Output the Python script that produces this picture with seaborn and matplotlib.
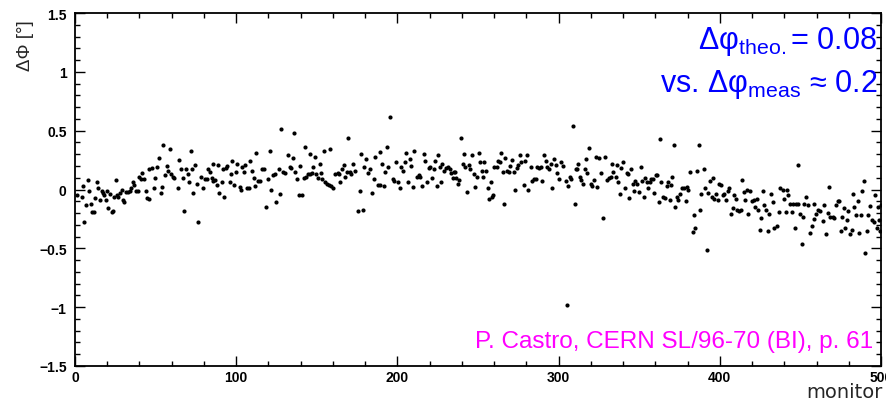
import matplotlib
matplotlib.use("Agg")
import matplotlib.pyplot as plt
import seaborn as sns
import pandas as pd
from matplotlib.ticker import MultipleLocator, FixedLocator, FixedFormatter

# ---- data ----
monitor = [
    1.5, 4.1, 5.2, 6.6, 5.6, 7.9, 8.9, 9.7, 10.4, 11.8, 12.4, 13.5, 14.5, 15.5, 16.6,
    17.6, 18.2, 19.3, 20.1, 20.7, 21.7, 22.8, 23.8, 24.4, 25.5, 25.9, 26.9, 28.0, 29.0, 29.6,
    30.4, 31.7, 33.1, 34.2, 34.6, 35.8, 36.9, 37.7, 38.9, 39.8, 41.0, 41.8, 42.9, 44.1, 44.9,
    46.2, 46.0, 47.6, 49.1, 49.7, 50.7, 51.8, 53.2, 53.8, 54.9, 55.9, 57.0, 58.0, 59.0, 59.6,
    60.7, 61.7,
    63.6, 64.8, 65.6, 66.9, 67.7, 68.9, 69.8, 71.0, 71.8, 72.5, 73.5, 74.5, 75.6, 76.6, 78.0,
    79.3, 80.7, 81.8, 82.8, 83.8, 84.9, 85.9, 85.9, 87.0, 88.0, 89.0, 89.6, 91.1, 92.1, 92.7,
    93.8, 94.6, 95.9, 96.7, 97.5, 98.8, 99.6, 100.8, 102.1, 102.9, 103.7, 105.0, 105.6, 107.0, 108.3,
    107.9, 109.7, 110.8, 111.8, 112.4, 113.5, 114.9, 115.9, 117.4, 118.6, 119.7, 120.7, 121.5, 122.8,
    124.2, 124.8, 126.3, 126.9, 127.7, 129.0, 130.4, 131.9, 133.1, 133.9, 135.2, 135.6, 136.6, 137.7, 138.7,
    139.7, 140.8, 141.8, 142.8, 143.5, 144.5, 145.5, 146.0, 147.0, 147.6, 148.6, 149.7, 150.5, 151.7, 152.6,
    153.4, 154.6, 155.3, 156.3, 157.3, 158.0, 158.8, 160.0, 161.5, 162.9, 163.5, 164.6, 165.6, 166.6, 167.7,
    168.7, 169.3, 170.4, 171.4, 172.4, 173.9, 175.3, 176.6, 177.4, 178.7, 179.5, 180.7, 181.8, 183.2, 184.5,
    185.3, 186.3,
    187.8, 189.0, 189.4, 190.4, 191.5, 192.5, 193.5, 194.0, 195.6, 197.3, 198.1, 199.3, 200.2, 201.4, 202.2,
    203.5, 204.5, 205.6, 206.6, 207.6, 208.5, 209.7, 210.1, 212.2, 213.2, 214.3, 215.3, 216.3, 217.4, 218.4,
    219.4, 220.5, 221.5, 222.5, 223.6, 224.6, 225.2, 226.3, 227.1, 227.9, 229.2, 230.4, 231.4, 232.5, 233.5,
    234.5, 235.0, 236.0, 236.6, 237.4, 238.1, 239.5, 240.8, 241.6, 242.2, 243.2, 244.3, 245.3, 246.3, 247.4,
    248.0,
    249.4, 250.5, 251.1, 252.5, 253.2, 254.0, 255.2, 256.1, 257.1, 258.1, 258.8, 259.4, 260.2, 261.5, 262.3,
    263.5, 264.3, 265.2, 266.0, 267.0, 268.1, 269.1, 270.1, 271.2, 272.2, 273.0, 273.9, 274.9, 275.9, 276.8,
    278.4, 279.0, 280.1, 281.3, 282.6, 283.8, 284.6, 285.7, 286.7, 287.7, 288.8, 289.8, 290.8, 291.9, 292.9,
    294.0, 295.0, 296.0, 297.1, 298.1, 299.1, 300.2, 301.6, 302.9, 304.9, 305.5, 306.0, 307.0, 308.0, 308.9,
    310.1, 310.5,
    311.2, 312.1, 313.3, 314.1, 315.4, 316.2, 317.2, 317.9, 318.9, 319.9, 321.0, 322.0, 323.0, 324.1, 325.1,
    326.5, 327.8, 328.8, 330.3, 331.3, 332.3, 333.0, 334.0, 335.5, 336.1, 337.1, 338.1, 339.0, 340.0, 341.0,
    342.3, 343.1, 343.9, 344.8, 346.0, 346.8, 347.7, 348.9, 349.9, 351.0, 351.8, 353.1, 353.9, 354.7, 355.7,
    356.8, 357.6, 358.4, 359.3, 360.3, 361.3, 362.0, 362.8, 363.8, 364.9, 365.9, 367.1, 368.0, 369.0, 369.6,
    370.6, 371.5, 372.1,
    373.3, 374.2, 375.4, 376.8, 377.9, 378.9, 379.5, 380.4, 381.6, 383.1, 383.7, 384.5, 385.7, 386.8, 387.8,
    388.6, 389.9, 390.7, 392.0, 392.8, 394.0, 394.9, 395.7, 396.5, 397.6, 398.6, 399.6, 400.7, 401.7, 402.7,
    403.8, 404.8, 405.8, 406.9, 407.9, 408.9, 410.0, 410.6, 412.0, 413.1, 413.7, 415.1, 415.8, 416.8, 417.8,
    418.9, 419.9, 421.0, 421.8, 423.0, 423.8, 424.9, 425.5, 426.5, 427.6, 428.6, 429.6, 430.7, 431.7, 432.7,
    433.8,
    435.4, 436.9, 437.5, 438.9, 440.0, 441.0, 441.6, 442.5, 443.7, 444.5, 445.2, 446.6, 447.2, 448.3, 448.7,
    449.9, 450.7, 451.6, 452.4, 453.4, 454.5, 456.1, 457.0, 458.2, 458.6, 459.7, 461.1, 462.3, 463.8, 464.8,
    465.9, 466.9, 467.9, 468.6, 470.0, 471.0, 472.1, 473.1, 474.1, 475.2, 475.8, 476.8, 477.7, 478.9, 479.7,
    481.0, 481.8, 482.4, 483.5, 484.5, 485.5, 486.6, 487.6, 488.2, 489.3, 490.3, 491.3, 492.2, 493.4, 494.2,
    495.5, 496.3, 497.5, 498.3, 499.0, 499.6, 499.8,
]

dphi = [
    -0.05, -0.06, 0.03, -0.13, -0.28, 0.08, -0.01, -0.12, -0.19, -0.19, -0.07, 0.06, 0.01, -0.09, -0.01,
    -0.03, -0.05, -0.09, -0.01, -0.16, -0.04, -0.19, -0.18, -0.06, 0.08, -0.05, -0.06, -0.03, 0.00, -0.09,
    -0.11, -0.02, -0.02, -0.01, 0.01, 0.06, 0.04, -0.01, -0.01, 0.11, 0.09, 0.14, 0.09, -0.01, -0.07,
    -0.08, 0.17, 0.18, 0.01, 0.10, 0.19, 0.27, -0.03, 0.02, 0.38, 0.12, 0.20, 0.16, 0.34, 0.13,
    0.11, 0.10,
    0.01, 0.25, 0.17, 0.10, -0.18, 0.17, 0.13, 0.06, 0.33, 0.17, -0.03, 0.21, 0.05, -0.28, 0.11,
    0.01, 0.09, 0.09, 0.17, 0.15, 0.10, 0.22, 0.07, 0.08, 0.04, 0.21, -0.03, 0.06, 0.17, -0.06,
    0.18, 0.20, 0.06, 0.13, 0.24, 0.04, 0.15, 0.22, 0.02, 0.00, 0.19, 0.15, 0.21, 0.01, 0.24,
    0.01, 0.16, 0.10, 0.03, 0.31, 0.07, 0.07, 0.17, 0.17, -0.15, 0.09, 0.33, 0.00, 0.12,
    0.13, -0.11, 0.17, -0.04, 0.51, 0.15, 0.14, 0.29, 0.19, 0.18, 0.27, 0.48, 0.15, 0.09, -0.05,
    0.20, -0.05, 0.10, 0.36, 0.11, 0.13, 0.13, 0.30, 0.14, 0.19, 0.28, 0.13, 0.10, 0.22, 0.14,
    0.09, 0.33, 0.06, 0.05, 0.04, 0.34, 0.03, 0.01, 0.13, 0.14, 0.13, 0.06, 0.17, 0.21, 0.11,
    0.15, 0.44, 0.15, 0.13, 0.22, 0.16, -0.18, -0.01, 0.30, -0.17, 0.19, 0.26, 0.14, 0.17, -0.03,
    0.09, 0.28,
    0.04, 0.04, 0.32, 0.22, 0.03, 0.15, 0.36, 0.19, 0.62, 0.09, 0.07, 0.23, 0.06, 0.01, 0.19,
    0.16, 0.23, 0.31, 0.06, 0.26, 0.20, 0.02, 0.33, 0.11, 0.12, 0.11, 0.03, 0.30, 0.24, 0.06,
    0.18, 0.19, 0.10, 0.17, 0.24, 0.03, 0.29, 0.19, 0.06, 0.22, 0.16, 0.18, 0.19, 0.17, 0.14,
    0.10, 0.15, 0.15, 0.10, 0.05, 0.08, 0.44, 0.22, 0.30, 0.19, -0.02, 0.21, 0.17, 0.29, 0.13,
    0.02,
    0.11, 0.31, 0.23, 0.16, 0.11, 0.23, 0.16, 0.01, -0.08, 0.06, -0.06, -0.05, 0.19, 0.19, 0.24,
    0.23, 0.31, 0.15, -0.12, 0.27, 0.16, 0.15, 0.20, 0.25, 0.15, 0.00, 0.18, 0.21, 0.29, 0.23,
    0.04, 0.24, 0.29, 0.00, 0.19, 0.07, 0.09, 0.09, 0.19, 0.18, 0.19, 0.07, 0.29, 0.24, 0.19,
    0.17, 0.22, 0.01, 0.26, 0.21, 0.14, 0.09, 0.23, 0.20, 0.07, -0.98, 0.03, 0.11, 0.09, 0.54,
    -0.12, 0.17,
    0.17, 0.22, 0.11, 0.08, 0.05, 0.17, 0.26, 0.14, 0.35, 0.05, 0.03, 0.08, 0.28, 0.02, 0.27,
    0.14, -0.24, 0.28, 0.08, 0.10, 0.11, 0.22, 0.15, 0.11, 0.21, 0.06, -0.04, 0.18, 0.23, 0.01,
    0.14, 0.13, -0.07, 0.17, 0.05, -0.01, 0.07, 0.05, -0.02, 0.19, 0.07, -0.06, 0.10, 0.06, 0.01,
    0.06, 0.09, 0.09, -0.03, 0.12, 0.12, -0.11, 0.43, 0.06, -0.06, -0.07, 0.03, 0.06, -0.09, 0.04,
    0.11, 0.38, -0.15,
    -0.06, -0.09, -0.04, 0.01, 0.01, -0.10, 0.02, 0.00, 0.15, -0.36, -0.22, -0.33, 0.16, 0.38, -0.17,
    -0.04, 0.17, 0.01, -0.51, -0.03, 0.07, -0.06, 0.10, -0.08, -0.04, -0.09, 0.05, 0.04, -0.05, -0.04,
    -0.09, -0.01, 0.01, -0.21, -0.16, -0.05, -0.08, -0.17, -0.18, -0.17, 0.08, -0.02, -0.09, 0.00, -0.21,
    -0.01, -0.10, -0.09, -0.15, -0.08, -0.17, -0.34, -0.24, -0.01, -0.13, -0.17, -0.35, -0.21, -0.04, -0.11,
    -0.33,
    -0.31, -0.19, 0.01, 0.00, -0.08, -0.19, 0.00, -0.05, -0.12, -0.19, -0.12, -0.33, -0.12, -0.12, 0.21,
    -0.21, -0.46, -0.23, -0.12, -0.06, -0.13, -0.37, -0.31, -0.25, -0.12, -0.21, -0.17, -0.18, -0.27, -0.13,
    -0.38, -0.20, 0.02, -0.23, -0.23, -0.24, -0.13, -0.10, -0.10, -0.35, -0.23, -0.16, -0.33, -0.26, -0.18,
    -0.38, -0.34, -0.04, -0.15, -0.22, -0.10, -0.37, -0.22, -0.01, 0.07, -0.54, -0.35, -0.22, -0.14, -0.26,
    -0.28, -0.05, -0.33, -0.15, -0.26, -0.35, -0.13,
]

ytick_values = [-1.5, -1, -0.5, 0, 0.5, 1, 1.5]
ytick_labels = ["\u22121.5", "\u22121", "\u22120.5", "0", "0.5", "1", "1.5"]
xtick_values = [0, 100, 200, 300, 400, 500]
xtick_labels = ["0", "100", "200", "300", "400", "500"]

annot_line1 = r"Δφ$_{\mathrm{theo.}}$= 0.08"
annot_line2 = r"vs. Δφ$_{\mathrm{meas}}$ ≈ 0.2"
source_text = "P. Castro, CERN SL/96-70 (BI), p. 61"

# ---- styling ----
sns.set_style("ticks")
plt.rcParams["font.family"] = ["Liberation Sans", "DejaVu Sans"]
plt.rcParams["mathtext.fontset"] = "custom"
plt.rcParams["mathtext.rm"] = "Liberation Sans"
plt.rcParams["mathtext.it"] = "Liberation Sans:italic"
plt.rcParams["mathtext.bf"] = "Liberation Sans:bold"

df = pd.DataFrame({"monitor": monitor, "dphi": dphi})

fig = plt.figure(figsize=(8.86, 4.02), dpi=100)
ax = fig.add_axes([75 / 886, 35 / 402, 806 / 886, 353 / 402])

sns.scatterplot(data=df, x="monitor", y="dphi", ax=ax, color="black",
                s=9, marker="o", linewidth=0, legend=False)

ax.set_xlim(0, 500)
ax.set_ylim(-1.5, 1.5)
ax.set_xlabel("")
ax.set_ylabel("")

ax.yaxis.set_major_locator(FixedLocator(ytick_values))
ax.yaxis.set_major_formatter(FixedFormatter(ytick_labels))
ax.yaxis.set_minor_locator(MultipleLocator(0.1))
ax.xaxis.set_major_locator(FixedLocator(xtick_values))
ax.xaxis.set_major_formatter(FixedFormatter(xtick_labels))
ax.xaxis.set_minor_locator(MultipleLocator(20))

ax.tick_params(which="both", direction="in", top=True, right=True,
               colors="black", width=1.0)
ax.tick_params(which="major", length=7, labelsize=10)
ax.tick_params(axis="y", which="major", pad=6)
ax.tick_params(axis="x", which="major", pad=3)
ax.tick_params(which="minor", length=3.5)
for lab in ax.get_xticklabels() + ax.get_yticklabels():
    lab.set_fontweight("bold")
for side in ["top", "bottom", "left", "right"]:
    ax.spines[side].set_linewidth(1.3)
    ax.spines[side].set_color("black")

# axis titles
fig.text(25 / 886, 1 - 46 / 402, "ΔΦ [°]", rotation=90, ha="center",
         va="center", fontsize=13.5)
fig.text(883 / 886, 1 - 398 / 402, "monitor", ha="right", va="baseline",
         fontsize=14, family="DejaVu Sans")

# annotations
fig.text(877 / 886, 1 - 49 / 402, annot_line1, ha="right", va="baseline",
         fontsize=22, color="#0000ff")
fig.text(877 / 886, 1 - 92 / 402, annot_line2, ha="right", va="baseline",
         fontsize=22, color="#0000ff")
fig.text(873 / 886, 1 - 348 / 402, source_text, ha="right", va="baseline",
         fontsize=17.5, color="#ff00ff")

fig.savefig("out.png", dpi=100)
